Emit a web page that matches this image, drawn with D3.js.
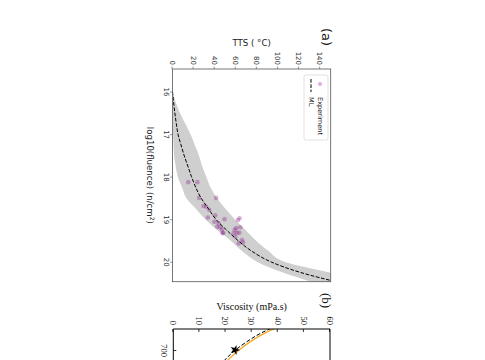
<!DOCTYPE html>
<html>
<head>
<meta charset="utf-8">
<script src="https://cdn.jsdelivr.net/npm/d3@7"></script>
<style>
body { margin: 0; background: #fff; }
</style>
</head>
<body>
<div id="chart-area"></div>
<script>
// panel (a): TTS vs log10 fluence
var fluence = [16.0, 16.25, 16.5, 16.75, 17.0, 17.25, 17.5, 17.75, 18.0, 18.25, 18.5, 18.75, 19.0, 19.25, 19.5, 19.75, 20.0, 20.25, 20.5];
var mlTTS = [0, 1, 2.2, 3.6, 5.2, 8, 11, 14.5, 18, 22, 27, 34, 41, 51, 62, 75, 93, 121, 160];
var bandLow = [0, 0, 0, 0.2, 0.5, 1, 1.5, 3, 5, 9, 13, 22, 31, 42, 55, 66, 80, 104, 135];
var bandHigh = [0, 3, 7, 12, 17, 21, 25, 28, 32, 36, 42, 50, 59, 69, 79, 91, 106, 148, 185];

var expFluence = [18.13, 18.13, 18.50, 18.50, 18.69, 18.71, 18.96, 18.91, 19.10, 19.00, 19.06, 19.19, 19.24, 19.32, 19.18,
    19.02, 18.98, 19.25, 19.19, 19.32, 19.32, 19.33, 19.41, 19.57, 19.49, 19.55, 19.21, 19.33, 18.78];
var expTTS = [15.0, 23.6, 25.2, 41.4, 29.3, 31.9, 33.5, 40.5, 43.6, 49.3, 39.8, 45.2, 46.9, 48.1, 42.4,
    62.1, 63.6, 58.9, 64.3, 61.1, 63.3, 57.9, 59.5, 62.7, 65.9, 66.9, 60.5, 47.4, 34.8];

var fluenceTicks = [16, 17, 18, 19, 20];
var ttsTicks = [0, 20, 40, 60, 80, 100, 120, 140];

// panel (b): viscosity, only its top edge shows
var temp = [660, 670, 680, 690, 700, 710, 720, 730, 740];
var viscML = [48, 40.5, 33.5, 28.2, 23.8, 20.3, 17.5, 15.2, 13.3];
var viscFit = [50, 42, 35, 29.5, 25.2, 21.6, 18.7, 16.3, 14.3];
var starTemp = [700];
var starVisc = [23.6];
var viscTicks = [0, 10, 20, 30, 40, 50, 60];
var tempTicks = [700];

var svg = d3.select("#chart-area").append("svg")
    .attr("width", 485)
    .attr("height", 360);

var sans = "DejaVu Sans, sans-serif";
var serif = "Liberation Serif, Times New Roman, serif";

// ---------- panel (a), drawn upright then turned a quarter turn
var W = 212.7, H = 158.2;
var ga = svg.append("g")
    .attr("transform", "translate(330.7,69) rotate(90)");

var xScale = d3.scaleLinear().domain([15.47, 20.47]).range([0, W]);
var yScale = d3.scaleLinear().domain([0, 150]).range([H, 0]);

ga.append("clipPath").attr("id", "clipA")
    .append("rect").attr("width", W).attr("height", H);

var plotA = ga.append("g").attr("clip-path", "url(#clipA)");

var band = d3.area()
    .x(function(d, i) { return xScale(fluence[i]); })
    .y0(function(d, i) { return yScale(bandLow[i]); })
    .y1(function(d, i) { return yScale(bandHigh[i]); })
    .curve(d3.curveMonotoneX);

plotA.append("path")
    .datum(fluence)
    .attr("d", band)
    .style("fill", "#cfcfcf")
    .style("stroke", "none");

plotA.selectAll("circle.exp").data(expTTS).enter().append("circle")
    .attr("class", "exp")
    .attr("cx", function(d, i) { return xScale(expFluence[i]); })
    .attr("cy", function(d) { return yScale(d); })
    .attr("r", 2.3)
    .style("fill", "purple")
    .style("fill-opacity", 0.3);

var mlLine = d3.line()
    .x(function(d, i) { return xScale(fluence[i]); })
    .y(function(d) { return yScale(d); })
    .curve(d3.curveMonotoneX);

plotA.append("path")
    .datum(mlTTS)
    .attr("d", mlLine)
    .style("fill", "none")
    .style("stroke", "#000")
    .style("stroke-width", 1)
    .style("stroke-dasharray", "3.7,1.6");

ga.append("rect")
    .attr("width", W).attr("height", H)
    .style("fill", "none")
    .style("stroke", "#555")
    .style("stroke-width", 0.8);

var xAxisA = ga.append("g")
    .attr("transform", "translate(0," + H + ")")
    .call(d3.axisBottom(xScale).tickValues(fluenceTicks).tickFormat(d3.format("d")).tickSize(2.5).tickPadding(1.5));
var yAxisA = ga.append("g")
    .call(d3.axisLeft(yScale).tickValues(ttsTicks).tickFormat(d3.format("d")).tickSize(2.5).tickPadding(1.5));

[xAxisA, yAxisA].forEach(function(ax) {
    ax.select(".domain").remove();
    ax.selectAll("line").style("stroke", "#555").style("stroke-width", 0.6);
    ax.selectAll("text").style("font-family", sans).style("font-size", "7px").style("fill", "#333");
});

var xlab = ga.append("text")
    .attr("x", W / 2).attr("y", 183.5)
    .attr("text-anchor", "middle")
    .style("font-family", sans).style("font-size", "8.6px").style("fill", "#222");
xlab.append("tspan").text("log10(fluence) (n/cm");
xlab.append("tspan").attr("dy", -3).style("font-size", "6px").text("2");
xlab.append("tspan").attr("dy", 3).text(")");

ga.append("text")
    .attr("transform", "translate(-23.5," + (H / 2) + ") rotate(-90)")
    .attr("text-anchor", "middle")
    .style("font-family", sans).style("font-size", "8.6px").style("fill", "#222")
    .text("TTS ( \u00B0C)");

ga.append("text")
    .attr("x", -41).attr("y", 8.5)
    .style("font-family", sans).style("font-size", "13px").style("fill", "#111")
    .text("(a)");

// legend
var leg = ga.append("g");
leg.append("rect")
    .attr("x", 6).attr("y", 2.7).attr("width", 65).attr("height", 24)
    .attr("rx", 2)
    .style("fill", "#fff").style("fill-opacity", 0.8)
    .style("stroke", "#ccc").style("stroke-width", 0.6);
leg.append("circle")
    .attr("cx", 15).attr("cy", 10.7).attr("r", 2)
    .style("fill", "purple").style("fill-opacity", 0.3);
leg.append("line")
    .attr("x1", 10).attr("x2", 23).attr("y1", 19.7).attr("y2", 19.7)
    .style("stroke", "#000").style("stroke-width", 1).style("stroke-dasharray", "3.7,1.6");
leg.selectAll("text").data(["Experiment", "ML"]).enter().append("text")
    .attr("x", 28)
    .attr("y", function(d, i) { return 13 + i * 9; })
    .style("font-family", sans).style("font-size", "6.6px").style("fill", "#222")
    .text(function(d) { return d; });

// ---------- panel (b)
var W2 = 40, H2 = 156.7;
var gb = svg.append("g")
    .attr("transform", "translate(330,329) rotate(90)");

var xScale2 = d3.scaleLinear().domain([675, 675 + W2 / 0.84]).range([0, W2]);
var yScale2 = d3.scaleLinear().domain([0, 60]).range([H2, 0]);

gb.append("clipPath").attr("id", "clipB")
    .append("rect").attr("width", W2).attr("height", H2);
var plotB = gb.append("g").attr("clip-path", "url(#clipB)");

var viscLine = d3.line()
    .x(function(d, i) { return xScale2(temp[i]); })
    .y(function(d) { return yScale2(d); })
    .curve(d3.curveMonotoneX);

plotB.append("path")
    .datum(viscFit)
    .attr("d", viscLine)
    .style("fill", "none")
    .style("stroke", "#f5a623")
    .style("stroke-width", 1.3);

plotB.append("path")
    .datum(viscML)
    .attr("d", viscLine)
    .style("fill", "none")
    .style("stroke", "#000")
    .style("stroke-width", 1)
    .style("stroke-dasharray", "4,2");

plotB.selectAll("path.star").data(starVisc).enter().append("path")
    .attr("class", "star")
    .attr("transform", function(d, i) { return "translate(" + xScale2(starTemp[i]) + "," + yScale2(d) + ")"; })
    .attr("d", d3.symbol().type(d3.symbolStar).size(30))
    .style("fill", "#000");

// frame: only top, left and right edges fall inside the window
gb.append("path")
    .attr("d", "M" + W2 + ",0H0V" + H2 + "H" + W2)
    .style("fill", "none")
    .style("stroke", "#000")
    .style("stroke-width", 1);

var xAxisB = gb.append("g")
    .attr("transform", "translate(0," + H2 + ")")
    .call(d3.axisBottom(xScale2).tickValues(tempTicks).tickSize(-3).tickPadding(6));
var yAxisB = gb.append("g")
    .call(d3.axisLeft(yScale2).tickValues(viscTicks).tickSize(-3).tickPadding(4));

[xAxisB, yAxisB].forEach(function(ax) {
    ax.select(".domain").remove();
    ax.selectAll("line").style("stroke", "#000").style("stroke-width", 0.8);
    ax.selectAll("text").style("font-family", serif).style("font-size", "8.5px").style("fill", "#111");
});

gb.append("text")
    .attr("transform", "translate(-19," + (H2 / 2) + ") rotate(-90)")
    .attr("text-anchor", "middle")
    .style("font-family", serif).style("font-size", "10px").style("fill", "#111")
    .text("Viscosity (mPa.s)");

gb.append("text")
    .attr("x", -36).attr("y", 8.5)
    .style("font-family", serif).style("font-size", "13px").style("fill", "#111")
    .text("(b)");
</script>
</body>
</html>
